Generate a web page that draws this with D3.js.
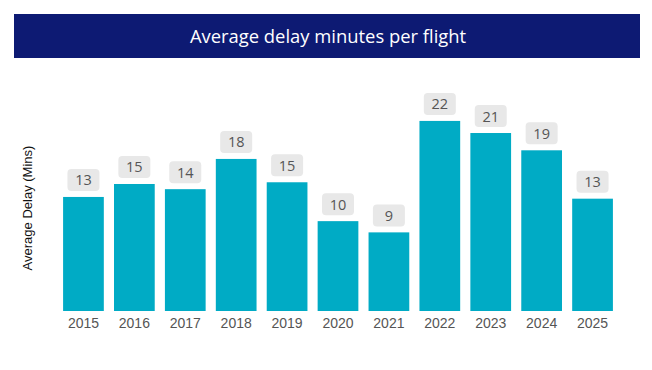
<!DOCTYPE html>
<html>
<head>
<meta charset="utf-8">
<script src="https://cdn.jsdelivr.net/npm/d3@7"></script>
<style>
  body { margin: 0; background: #fff; }
  svg { display: block; }
</style>
</head>
<body>
<div class="graph"></div>
<script>
// values (labels show rounded minutes)
const years = ['2015', '2016', '2017', '2018', '2019', '2020', '2021', '2022', '2023', '2024', '2025'];
const delays = [13.2, 14.7, 14.1, 17.6, 14.9, 10.4, 9.1, 22.0, 20.6, 18.6, 13.0];
const title = 'Average delay minutes per flight';
const yTitle = 'Average Delay (Mins)';

const width = 652, height = 370;
const data = years.map((y, i) => ({ year: y, delay: delays[i] }));

const svg = d3.select('.graph').append('svg')
  .attr('width', width)
  .attr('height', height);

// title banner
svg.append('rect')
  .attr('x', 14).attr('y', 14)
  .attr('width', 626).attr('height', 44)
  .attr('fill', '#0d1a73');

svg.append('text')
  .attr('x', 328).attr('y', 35)
  .attr('text-anchor', 'middle')
  .attr('dominant-baseline', 'central')
  .attr('fill', '#fff')
  .style('font-family', '"Open Sans", sans-serif')
  .style('font-size', '18.4px')
  .text(title);

const x = d3.scaleBand()
  .domain(years)
  .range([58, 618])
  .paddingInner(0.2)
  .paddingOuter(0.1);

const y = d3.scaleLinear()
  .domain([0, 25])
  .range([311, 95]);

const g = svg.append('g');

g.selectAll('rect.bar')
  .data(data)
  .enter()
  .append('rect')
  .attr('class', 'bar')
  .attr('x', d => x(d.year))
  .attr('y', d => y(d.delay))
  .attr('width', x.bandwidth())
  .attr('height', d => y(0) - y(d.delay))
  .attr('fill', '#00abc5');

// value badges
const badge = g.selectAll('g.badge')
  .data(data)
  .enter()
  .append('g')
  .attr('class', 'badge')
  .attr('transform', d => `translate(${x(d.year) + x.bandwidth() / 2},${y(d.delay) - 17})`);

badge.append('rect')
  .attr('x', -16).attr('y', -11)
  .attr('width', 32).attr('height', 22)
  .attr('rx', 4)
  .attr('fill', '#e8e8e8');

badge.append('text')
  .attr('text-anchor', 'middle')
  .attr('dominant-baseline', 'central')
  .attr('fill', '#555')
  .style('font-family', '"Open Sans", sans-serif')
  .style('font-size', '14.5px')
  .text(d => Math.round(d.delay));

// x axis, labels only
const xAxis = g.append('g')
  .attr('transform', `translate(0,${y(0)})`)
  .call(d3.axisBottom(x).tickSize(0).tickPadding(7));
xAxis.select('.domain').remove();
xAxis.selectAll('text')
  .attr('fill', '#555')
  .style('font-family', '"Liberation Sans", Arial, sans-serif')
  .style('font-size', '14px');

svg.append('text')
  .attr('transform', 'translate(32,208) rotate(-90)')
  .attr('text-anchor', 'middle')
  .attr('fill', '#111')
  .style('font-family', '"Liberation Sans", Arial, sans-serif')
  .style('font-size', '13px')
  .text(yTitle);
</script>
</body>
</html>
